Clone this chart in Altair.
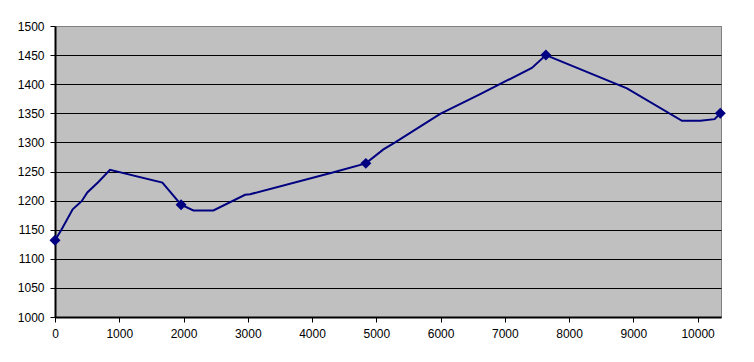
import altair as alt
import pandas as pd

# line vertices (distance, elevation)
dist = [0, 100, 275, 415, 503, 675, 856, 1671, 1962, 2153, 2465, 2958, 3036, 4307, 4837,
        5111, 5293, 5994, 6617, 7421, 7639, 8901, 9757, 10042, 10265, 10353]
elev = [1132, 1150, 1185, 1199, 1214, 1232, 1253, 1231, 1193, 1183, 1183, 1210, 1211, 1248, 1264,
        1288, 1300, 1349, 1383, 1428, 1450, 1393, 1337, 1337, 1340, 1350]

# marked points
mark_dist = [0, 1962, 4837, 7639, 10353]
mark_elev = [1132, 1193, 1264, 1450, 1350]

x_ticks = list(range(0, 10001, 1000))
y_ticks = list(range(1000, 1501, 50))

line_df = pd.DataFrame({"d": dist, "e": elev, "o": list(range(len(dist))), "m": [False] * len(dist)})
pt_df = pd.DataFrame({"d": mark_dist, "e": mark_elev, "o": list(range(len(mark_dist))), "m": [True] * len(mark_dist)})
df = pd.concat([line_df, pt_df], ignore_index=True)

xs = alt.Scale(domain=[0, 10364], nice=False, zero=False)
ys = alt.Scale(domain=[1000, 1500], nice=False, zero=False)

xax = alt.Axis(values=x_ticks, title=None, grid=False, domainColor="black", domainWidth=2,
               tickColor="black", tickSize=5, labelPadding=6, labelFont="Liberation Sans",
               labelFontSize=12, labelColor="black", format="d", labelFlush=False,
               labelOverlap=False)
yax = alt.Axis(values=y_ticks, title=None, grid=True,
               gridColor=alt.condition("datum.value == 1500", alt.value("#808080"), alt.value("black")),
               gridWidth=1, domainColor="black", domainWidth=2,
               tickColor="black", tickSize=5, labelPadding=6, labelFont="Liberation Sans",
               labelFontSize=12, labelColor="black", format="d", labelOverlap=False)

base = alt.Chart(df).encode(
    x=alt.X("d:Q", scale=xs, axis=xax),
    y=alt.Y("e:Q", scale=ys, axis=yax),
)
line = base.transform_filter("!datum.m").mark_line(color="#000080", strokeWidth=2).encode(order="o:Q")
pts = base.transform_filter("datum.m").mark_point(shape="diamond", filled=True, color="#000080",
                                                   size=120, opacity=1)

chart = alt.layer(line, pts).properties(
    width=666, height=291,
    padding={"left": 47, "top": 18, "right": 25, "bottom": 37},
    autosize=alt.AutoSizeParams(type="none"),
).configure(
    background="white",
    view=alt.ViewConfig(fill="#C0C0C0", stroke="#808080", strokeWidth=1),
)

chart.save("out.html", embed_options={"renderer": "svg", "actions": False})
